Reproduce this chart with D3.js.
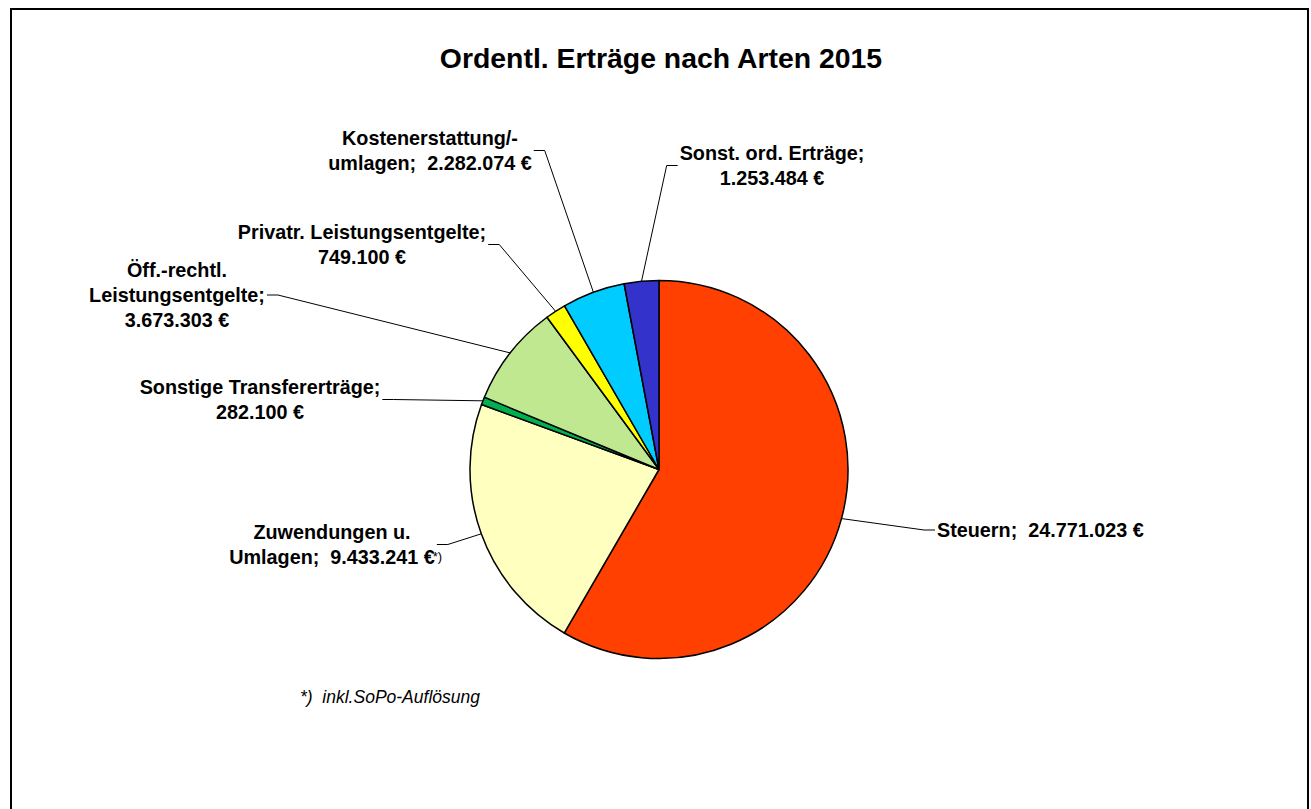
<!DOCTYPE html>
<html>
<head>
<meta charset="utf-8">
<script src="https://cdn.jsdelivr.net/npm/d3@7"></script>
<style>
  html, body { margin: 0; padding: 0; background: #fff; }
  svg { display: block; }
  text { font-family: "Liberation Sans", Arial, sans-serif; white-space: pre; }
</style>
</head>
<body>
<svg id="chart" width="1311" height="809"></svg>
<script>
// ---- data ----
const title = "Ordentl. Erträge nach Arten 2015";
const categories = [
  "Steuern",
  "Zuwendungen u. Umlagen",
  "Sonstige Transfererträge",
  "Öff.-rechtl. Leistungsentgelte",
  "Privatr. Leistungsentgelte",
  "Kostenerstattung/-umlagen",
  "Sonst. ord. Erträge"
];
const values = [24771023, 9433241, 282100, 3673303, 749100, 2282074, 1253484];
const colors = ["#FF4000", "#FFFFC0", "#00B050", "#C0E890", "#FFFF00", "#00CCFF", "#3333CC"];
const labelLines = [
  ["Steuern;  {v}"],
  ["Zuwendungen u.", "Umlagen;  {v}"],
  ["Sonstige Transfererträge;", "{v}"],
  ["Öff.-rechtl.", "Leistungsentgelte;", "{v}"],
  ["Privatr. Leistungsentgelte;", "{v}"],
  ["Kostenerstattung/-", "umlagen;  {v}"],
  ["Sonst. ord. Erträge;", "{v}"]
];
const footnote = "*)  inkl.SoPo-Auflösung";

// ---- layout (positions only) ----
const cx = 659, cy = 469.5, R = 189;
const labelLayout = [
  { x: 937, y: 530, anchor: "start", side: 1 },
  { x: 332, y: 532, anchor: "middle", side: -1 },
  { x: 260, y: 387, anchor: "middle", side: -1 },
  { x: 177, y: 270, anchor: "middle", side: -1 },
  { x: 362, y: 232, anchor: "middle", side: -1 },
  { x: 430, y: 138, anchor: "middle", side: -1 },
  { x: 772, y: 153, anchor: "middle", side: 1 }
];
const lineH = 25;
const fontSize = 19.8;

const de = d3.formatLocale({ decimal: ",", thousands: ".", grouping: [3], currency: ["", " €"] });
const fmt = v => de.format(",.0f")(v) + " €";

const svg = d3.select("#chart");

// frame
svg.append("rect")
  .attr("x", 11).attr("y", 9).attr("width", 1297).attr("height", 820)
  .attr("fill", "#fff").attr("stroke", "#000").attr("stroke-width", 2);

// title
svg.append("text")
  .attr("x", 661).attr("y", 68)
  .attr("text-anchor", "middle")
  .attr("font-size", 28.4).attr("font-weight", "bold")
  .text(title);

const data = categories.map((c, i) => ({ name: c, value: values[i], color: colors[i], lines: labelLines[i], lay: labelLayout[i] }));

const pie = d3.pie().value(d => d.value).sort(null).startAngle(0).endAngle(2 * Math.PI);
const arcs = pie(data);
const arc = d3.arc().innerRadius(0).outerRadius(R);

const g = svg.append("g").attr("transform", `translate(${cx},${cy})`);
g.selectAll("path.slice").data(arcs).join("path")
  .attr("class", "slice")
  .attr("d", arc)
  .attr("fill", d => d.data.color)
  .attr("stroke", "#000")
  .attr("stroke-width", 1.5)
  .attr("stroke-linejoin", "round");

// labels
const labelsG = svg.append("g");
arcs.forEach(a => {
  const d = a.data, L = d.lay;
  const t = labelsG.append("text")
    .attr("font-size", fontSize).attr("font-weight", "bold")
    .attr("text-anchor", L.anchor);
  d.lines.forEach((ln, k) => {
    t.append("tspan")
      .attr("x", L.x)
      .attr("y", L.y + k * lineH + fontSize * 0.35)
      .text(ln.replace("{v}", fmt(d.value)));
  });
  const bb = t.node().getBBox();
  const midY = L.y + (d.lines.length - 1) * lineH / 2;
  const mid = (a.startAngle + a.endAngle) / 2;
  const px = cx + R * Math.sin(mid), py = cy - R * Math.cos(mid);
  let x0, x1;
  if (L.side < 0) { x0 = bb.x + bb.width + 2; x1 = x0 + 11; }
  else { x0 = bb.x - 2; x1 = x0 - 11; }
  labelsG.append("polyline")
    .attr("points", [[x0, midY], [x1, midY], [px, py]].map(p => p.join(",")).join(" "))
    .attr("fill", "none").attr("stroke", "#000").attr("stroke-width", 1);
  if (d.name === "Zuwendungen u. Umlagen") {
    labelsG.append("text")
      .attr("x", bb.x + bb.width - 2).attr("y", L.y + lineH + 4)
      .attr("font-size", 13)
      .text("*)");
  }
});

// footnote
svg.append("text")
  .attr("x", 300).attr("y", 703)
  .attr("font-size", 17.5).attr("font-style", "italic")
  .text(footnote);
</script>
</body>
</html>
